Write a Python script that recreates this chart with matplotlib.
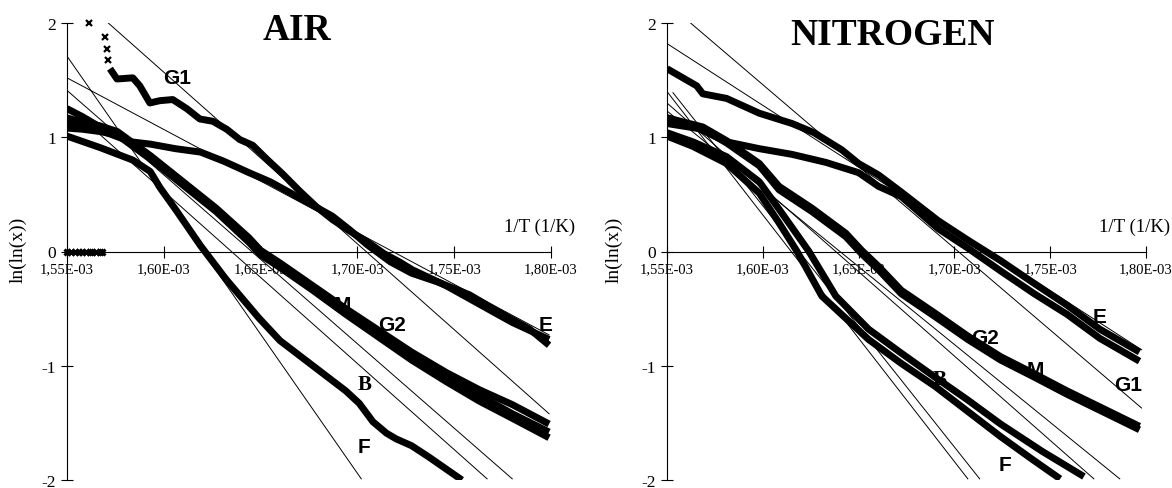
import matplotlib
matplotlib.use("Agg")
import matplotlib.pyplot as plt

# x values are 1/T in units of 1E-03 (1/K), y values are ln(ln(x))
x_ticks = [1.55, 1.60, 1.65, 1.70, 1.75, 1.80]
x_tick_labels = ["1,55E-03", "1,60E-03", "1,65E-03", "1,70E-03", "1,75E-03", "1,80E-03"]
y_ticks = [-2, -1, 0, 1, 2]

# ---------------- AIR ----------------
air_g1_zero_x = [1.550, 1.552, 1.554, 1.556, 1.558, 1.560, 1.562, 1.563, 1.565, 1.567, 1.568]
air_g1_zero_y = [0, 0, 0, 0, 0, 0, 0, 0, 0, 0, 0]
air_g1_dots_x = [1.5613, 1.5696, 1.5706, 1.5711]
air_g1_dots_y = [2.00, 1.88, 1.77, 1.68]
air_g1_x = [1.5722, 1.5758, 1.5840, 1.5876, 1.5928, 1.5979, 1.6046, 1.6119, 1.6186, 1.6253,
            1.6325, 1.6392, 1.6459, 1.6531, 1.6613, 1.6701, 1.6789, 1.6871, 1.6959, 1.7046,
            1.7139, 1.7216, 1.7284, 1.7459, 1.7629, 1.7799, 1.7990]
air_g1_y = [1.60, 1.51, 1.52, 1.45, 1.30, 1.32, 1.33, 1.25, 1.16, 1.14,
            1.07, 0.98, 0.93, 0.81, 0.68, 0.53, 0.39, 0.28, 0.18, 0.09,
            -0.02, -0.09, -0.16, -0.30, -0.46, -0.62, -0.77]

air_e_x = [1.550, 1.562, 1.572, 1.583, 1.593, 1.606, 1.619, 1.631, 1.644, 1.655, 1.670,
           1.687, 1.696, 1.705, 1.717, 1.728, 1.742, 1.758, 1.773, 1.789, 1.799]
air_e_y = [1.12, 1.09, 1.03, 0.96, 0.94, 0.90, 0.87, 0.79, 0.69, 0.61, 0.47,
           0.31, 0.19, 0.06, -0.09, -0.19, -0.27, -0.38, -0.53, -0.68, -0.82]

air_bundle_x = [1.550, 1.558, 1.567, 1.576, 1.593, 1.610, 1.627, 1.644, 1.650, 1.660,
                1.677, 1.694, 1.711, 1.728, 1.746, 1.763, 1.780, 1.799]
air_m_y = [1.17, 1.13, 1.10, 1.05, 0.84, 0.61, 0.38, 0.12, 0.01, -0.10,
           -0.30, -0.50, -0.69, -0.88, -1.06, -1.21, -1.34, -1.51]
air_g2_y = [1.25, 1.18, 1.09, 1.04, 0.83, 0.60, 0.36, 0.10, -0.01, -0.12,
            -0.32, -0.53, -0.72, -0.91, -1.10, -1.26, -1.42, -1.58]
air_b_y = [1.08, 1.07, 1.05, 1.02, 0.81, 0.58, 0.35, 0.08, -0.03, -0.14,
           -0.34, -0.55, -0.75, -0.95, -1.14, -1.31, -1.46, -1.63]

air_f_x = [1.550, 1.567, 1.584, 1.593, 1.598, 1.606, 1.619, 1.632, 1.649, 1.660,
           1.677, 1.694, 1.701, 1.708, 1.715, 1.720, 1.728, 1.737, 1.754]
air_f_y = [1.01, 0.91, 0.80, 0.70, 0.56, 0.37, 0.05, -0.24, -0.58, -0.78,
           -1.00, -1.22, -1.33, -1.49, -1.59, -1.64, -1.70, -1.80, -2.00]

# fitted straight lines (start, end)
air_fits = {
    "G1": ([1.570, 1.799], [2.02, -1.42]),
    "E": ([1.550, 1.799], [1.52, -0.73]),
    "F": ([1.550, 1.702], [1.71, -1.99]),
    "B": ([1.550, 1.767], [1.28, -1.99]),
    "M": ([1.550, 1.780], [1.41, -1.99]),
}
air_labels = {"G1": (1.6067, 1.52), "M": (1.6923, -0.46), "G2": (1.7180, -0.64),
              "E": (1.7974, -0.64), "B": (1.7036, -1.16), "F": (1.7036, -1.71)}

# ---------------- NITROGEN ----------------
n2_g1_x = [1.5500, 1.5655, 1.5687, 1.5811, 1.5982, 1.6153, 1.6267, 1.6412, 1.6500, 1.6604,
           1.6723, 1.6915, 1.7070, 1.7241, 1.7417, 1.7588, 1.7759, 1.7966]
n2_g1_y = [1.60, 1.45, 1.38, 1.34, 1.21, 1.12, 1.04, 0.89, 0.77, 0.67,
           0.52, 0.27, 0.10, -0.08, -0.28, -0.47, -0.68, -0.88]

n2_e_x = [1.5500, 1.5635, 1.5811, 1.5982, 1.6153, 1.6329, 1.6500, 1.6604, 1.6723, 1.6915,
          1.7070, 1.7241, 1.7417, 1.7588, 1.7759, 1.7966]
n2_e_y = [1.17, 1.10, 0.96, 0.90, 0.85, 0.78, 0.69, 0.57, 0.48, 0.20,
          0.03, -0.17, -0.37, -0.55, -0.76, -0.96]

n2_mg_x = [1.5500, 1.5687, 1.5811, 1.5982, 1.6085, 1.6256, 1.6433, 1.6516, 1.6604, 1.6723,
           1.6899, 1.7070, 1.7241, 1.7417, 1.7588, 1.7759, 1.7966]
n2_m_y = [1.12, 1.07, 0.95, 0.75, 0.54, 0.35, 0.13, -0.02, -0.16, -0.37,
          -0.57, -0.77, -0.95, -1.10, -1.25, -1.39, -1.56]
n2_g2_y = [1.17, 1.09, 0.97, 0.77, 0.57, 0.38, 0.16, 0.01, -0.13, -0.34,
           -0.54, -0.74, -0.92, -1.07, -1.22, -1.36, -1.53]

n2_b_x = [1.5500, 1.5635, 1.5811, 1.5982, 1.6085, 1.6241, 1.6381, 1.6552, 1.6723, 1.6899,
          1.7070, 1.7241, 1.7459, 1.7676]
n2_b_y = [1.04, 0.96, 0.83, 0.61, 0.37, 0.00, -0.39, -0.68, -0.89, -1.10,
          -1.30, -1.51, -1.75, -1.97]

n2_f_x = [1.5500, 1.5635, 1.5811, 1.5982, 1.6085, 1.6179, 1.6308, 1.6552, 1.6723, 1.6899,
          1.7070, 1.7241, 1.7407, 1.7552]
n2_f_y = [1.01, 0.92, 0.77, 0.51, 0.25, 0.00, -0.39, -0.77, -0.98, -1.18,
          -1.40, -1.62, -1.82, -1.99]

n2_fits = {
    "G1": ([1.5609, 1.7977], [2.02, -1.37]),
    "E": ([1.550, 1.7977], [1.82, -0.86]),
    "F": ([1.550, 1.7070], [1.40, -1.99]),
    "B": ([1.5531, 1.7132], [1.39, -1.99]),
    "G2": ([1.550, 1.7728], [1.30, -1.99]),
    "M": ([1.550, 1.7863], [1.23, -1.99]),
}
n2_labels = {"E": (1.7759, -0.57), "G2": (1.7158, -0.75), "M": (1.7422, -1.03),
             "G1": (1.7909, -1.16), "B": (1.6925, -1.12), "F": (1.7262, -1.86)}

SERIF = "Liberation Serif"
SANS = "Liberation Sans"
CURVE_LW = 5.0


def style_axes(ax, title, title_x, title_y):
    ax.set_xlim(1.55, 1.80)
    ax.set_ylim(-2, 2)
    ax.spines["top"].set_visible(False)
    ax.spines["right"].set_visible(False)
    ax.spines["bottom"].set_position(("data", 0))
    for s in ("left", "bottom"):
        ax.spines[s].set_linewidth(0.8)
    ax.set_xticks(x_ticks)
    ax.set_xticklabels(x_tick_labels, fontfamily=SERIF, fontsize=10.5)
    ax.set_yticks(y_ticks)
    ax.set_yticklabels([str(v) for v in y_ticks], fontfamily=SERIF, fontsize=12.5)
    ax.tick_params(axis="both", direction="inout", length=8, width=0.8)
    ax.tick_params(axis="x", pad=4)
    ax.tick_params(axis="y", pad=4)
    ax.patch.set_alpha(0)
    ax.text(title_x, title_y, title, transform=ax.transAxes, ha="center", va="center",
            fontfamily=SERIF, fontweight="bold", fontsize=27)
    ax.text(1.05, 0.555, "1/T (1/K)", transform=ax.transAxes, ha="right", va="center",
            fontfamily=SERIF, fontsize=13.5, clip_on=False)


def curve(ax, x, y):
    ax.plot(x, y, color="black", lw=CURVE_LW, solid_capstyle="butt", solid_joinstyle="round")


def labels(ax, lab):
    for name, (lx, ly) in lab.items():
        fam = SERIF if name == "B" else SANS
        ax.text(lx, ly, name, ha="center", va="center", fontfamily=fam,
                fontweight="bold", fontsize=15, clip_on=False)


fig = plt.figure(figsize=(11.72, 4.89), dpi=100)
ax_air = fig.add_axes([67 / 1172, 8 / 489, 484 / 1172, 457 / 489])
ax_n2 = fig.add_axes([667 / 1172, 8 / 489, 479 / 1172, 457 / 489])

# AIR
style_axes(ax_air, "AIR", 0.475, 0.985)
for fx, fy in air_fits.values():
    ax_air.plot(fx, fy, color="black", lw=0.7)
ax_air.plot(air_g1_zero_x, air_g1_zero_y, ls="none", marker="x", ms=5, mew=2.2,
            color="black", clip_on=False)
ax_air.plot(air_g1_dots_x, air_g1_dots_y, ls="none", marker="x", ms=4, mew=1.6,
            color="black", clip_on=False)
curve(ax_air, air_g1_x, air_g1_y)
curve(ax_air, air_e_x, air_e_y)
curve(ax_air, air_bundle_x, air_m_y)
curve(ax_air, air_bundle_x, air_g2_y)
curve(ax_air, air_bundle_x, air_b_y)
curve(ax_air, air_f_x, air_f_y)
labels(ax_air, air_labels)

# NITROGEN
style_axes(ax_n2, "NITROGEN", 0.47, 0.974)
for fx, fy in n2_fits.values():
    ax_n2.plot(fx, fy, color="black", lw=0.7)
curve(ax_n2, n2_g1_x, n2_g1_y)
curve(ax_n2, n2_e_x, n2_e_y)
curve(ax_n2, n2_mg_x, n2_m_y)
curve(ax_n2, n2_mg_x, n2_g2_y)
curve(ax_n2, n2_b_x, n2_b_y)
curve(ax_n2, n2_f_x, n2_f_y)
labels(ax_n2, n2_labels)

fig.text(18 / 1172, 1 - 250 / 489, "ln(ln(x))", rotation=90, ha="center", va="center",
         fontfamily=SERIF, fontsize=14)
fig.text(614 / 1172, 1 - 250 / 489, "ln(ln(x))", rotation=90, ha="center", va="center",
         fontfamily=SERIF, fontsize=14)

fig.savefig("out.png", dpi=100, facecolor="white")
